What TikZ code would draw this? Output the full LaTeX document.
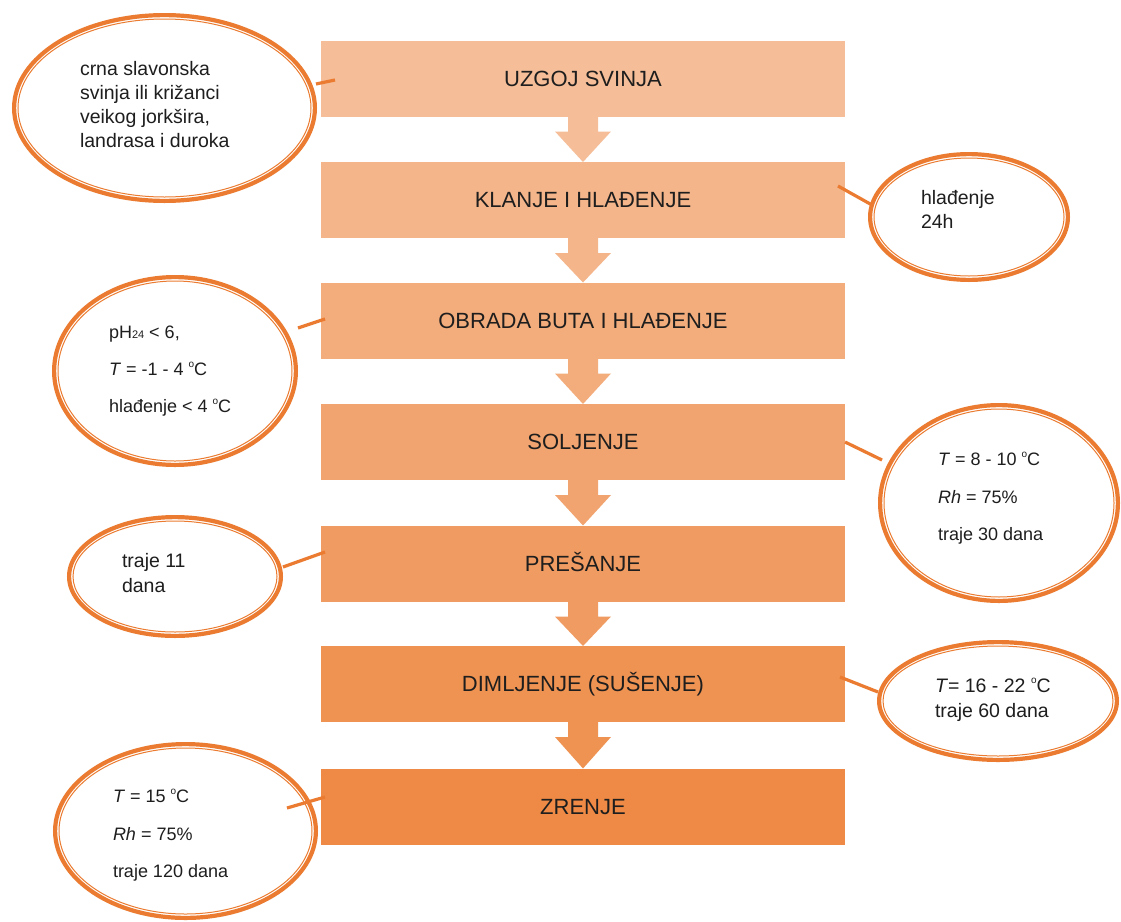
\documentclass[tikz,border=0pt]{standalone}
\usepackage{fontspec}
\setmainfont{Liberation Sans}
\usetikzlibrary{shapes.geometric,calc}
\definecolor{accent}{HTML}{EB7B30}
\definecolor{txt}{HTML}{1E1E1E}
\definecolor{cA}{RGB}{245,190,152}
\definecolor{cB}{RGB}{244,181,138}
\definecolor{cC}{RGB}{243,173,124}
\definecolor{cD}{RGB}{241,164,111}
\definecolor{cE}{RGB}{240,155,97}
\definecolor{cF}{RGB}{239,147,83}
\definecolor{cG}{RGB}{238,138,69}
\newcommand\bxfont{\fontsize{22}{26}\selectfont}
\newcommand\lbfont{\fontsize{19.5}{24}\selectfont}
\newcommand\lbfontsm{\fontsize{18}{22}\selectfont}
\newcommand\degc{\raisebox{0.42em}{\fontsize{10}{10}\selectfont o}C}
\tikzset{
  ell/.style={ellipse, draw=accent, line width=4.2pt, fill=white, inner sep=0pt, outer sep=0pt},
  ellin/.style={draw=accent, line width=1pt},
  stepbox/.style={rectangle, minimum width=524pt, minimum height=76pt, inner sep=0pt, outer sep=0pt,
    text height=15.8pt, text depth=0pt, font=\bxfont, text=txt},
  conn/.style={draw=accent, line width=3.2pt},
  lbl/.style={anchor=base west, inner sep=0pt, outer sep=0pt, text=txt, font=\lbfont},
  lblsm/.style={lbl, font=\lbfontsm},
}
\begin{document}
\begin{tikzpicture}[x=1pt,y=-1pt]
\useasboundingbox (0,0) rectangle (1121,921);
\fill[white] (0,0) rectangle (1121,921);

% process boxes
\node[stepbox, fill=cA] (b1) at (583,78.5) {UZGOJ SVINJA};
\node[stepbox, fill=cB] (b2) at (583,200) {KLANJE I HLAĐENJE};
\node[stepbox, fill=cC] (b3) at (583,320.5) {OBRADA BUTA I HLAĐENJE};
\node[stepbox, fill=cD] (b4) at (583,442) {SOLJENJE};
\node[stepbox, fill=cE] (b5) at (583,563.5) {PREŠANJE};
\node[stepbox, fill=cF] (b6) at (583,684) {DIMLJENJE (SUŠENJE)};
\node[stepbox, fill=cG] (b7) at (583,806.5) {ZRENJE};

% block arrows
\foreach \a/\b/\c in {b1/b2/cA,b2/b3/cB,b3/b4/cC,b4/b5/cD,b5/b6/cE,b6/b7/cF}{
  \fill[\c] ($(\a.south)+(-15,-1)$) -- ($(\a.south)+(15,-1)$) -- ($(\a.south)+(15,15)$)
    -- ($(\a.south)+(28,15)$) -- (\b.north) -- ($(\a.south)+(-28,15)$)
    -- ($(\a.south)+(-15,15)$) -- cycle;
}

% ellipses
\node[ell, minimum width=300.8pt, minimum height=185.8pt] (e1) at (164.5,108) {};
\draw[ellin] (e1.center) ellipse [x radius=146.5, y radius=89];
\node[ell, minimum width=197.8pt, minimum height=125.8pt] (e2) at (969,217) {};
\draw[ellin] (e2.center) ellipse [x radius=95, y radius=59];
\node[ell, minimum width=241.8pt, minimum height=187.8pt] (e3) at (175,371) {};
\draw[ellin] (e3.center) ellipse [x radius=117, y radius=90];
\node[ell, minimum width=237.8pt, minimum height=195.8pt] (e4) at (999,503) {};
\draw[ellin] (e4.center) ellipse [x radius=115, y radius=94];
\node[ell, minimum width=211.8pt, minimum height=118.8pt] (e5) at (175,576.5) {};
\draw[ellin] (e5.center) ellipse [x radius=102, y radius=55.5];
\node[ell, minimum width=237.8pt, minimum height=117.8pt] (e6) at (998,701) {};
\draw[ellin] (e6.center) ellipse [x radius=115, y radius=55];
\node[ell, minimum width=260.8pt, minimum height=173.8pt] (e7) at (185.5,831) {};
\draw[ellin] (e7.center) ellipse [x radius=126.5, y radius=83];

% connectors
\coordinate (k1a) at (316,84);  \coordinate (k1b) at (335,80);
\coordinate (k2a) at (838,186); \coordinate (k2b) at (872,205);
\coordinate (k3a) at (298,328); \coordinate (k3b) at (325,319);
\coordinate (k4a) at (845,442); \coordinate (k4b) at (882,460);
\coordinate (k5a) at (283,567); \coordinate (k5b) at (325,552);
\coordinate (k6a) at (840,677); \coordinate (k6b) at (878,692);
\coordinate (k7a) at (287,808); \coordinate (k7b) at (325,797);
\draw[conn] (k1a) -- (k1b);
\draw[conn] (k2a) -- (k2b);
\draw[conn] (k3a) -- (k3b);
\draw[conn] (k4a) -- (k4b);
\draw[conn] (k5a) -- (k5b);
\draw[conn] (k6a) -- (k6b);
\draw[conn] (k7a) -- (k7b);

% ellipse texts
\node[lbl] (t11) at (80,75) {crna slavonska};
\node[lbl] (t12) at (80,99) {svinja ili križanci};
\node[lbl] (t13) at (80,123) {veikog jorkšira,};
\node[lbl] (t14) at (80,147) {landrasa i duroka};

\node[lbl] (t21) at (921,204) {hlađenje};
\node[lbl] (t22) at (921,228) {24h};

\node[lblsm] (t31) at (109,338) {pH{\fontsize{11}{11}\selectfont 24} < 6,};
\node[lblsm] (t32) at (109,375) {\textit{T} = -1 - 4 \degc};
\node[lblsm] (t33) at (109,412) {hlađenje < 4 \degc};

\node[lblsm] (t41) at (938,465) {\textit{T} = 8 - 10 \degc};
\node[lblsm] (t42) at (938,503) {\textit{Rh} = 75\%};
\node[lblsm] (t43) at (938,540) {traje 30 dana};

\node[lbl] (t51) at (122,567) {traje 11};
\node[lbl] (t52) at (122,592) {dana};

\node[lbl] (t61) at (935,692) {\textit{T}= 16 - 22 \degc};
\node[lbl] (t62) at (935,717) {traje 60 dana};

\node[lblsm] (t71) at (113,802) {\textit{T} = 15 \degc};
\node[lblsm] (t72) at (113,840) {\textit{Rh} = 75\%};
\node[lblsm] (t73) at (113,877) {traje 120 dana};
\end{tikzpicture}
\end{document}
